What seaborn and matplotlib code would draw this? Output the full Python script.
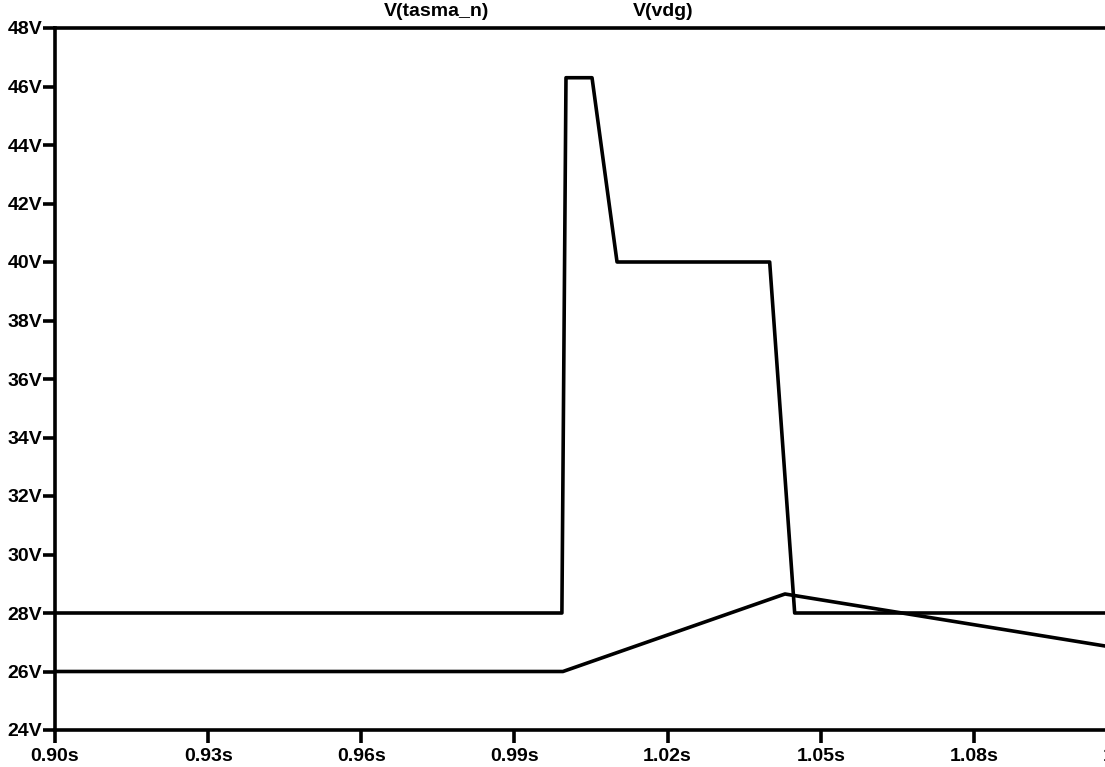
import numpy as np
import pandas as pd
import seaborn as sns
import matplotlib.pyplot as plt
from matplotlib.ticker import FuncFormatter

# ---- data ----
t_tasma = [0.90, 0.9993, 1.0001, 1.0052, 1.0101, 1.0400, 1.0449, 1.11]
v_tasma = [28.0, 28.0, 46.3, 46.3, 40.0, 40.0, 28.0, 28.0]

t_vdg = [0.90, 0.9995, 1.0430, 1.11]
v_vdg = [26.0, 26.0, 28.65, 26.75]

trace_names = ["V(tasma_n)", "V(vdg)"]
x_ticks = [0.90, 0.93, 0.96, 0.99, 1.02, 1.05, 1.08, 1.11]
y_ticks = list(range(24, 50, 2))

df = pd.concat([
    pd.DataFrame({"t": t_tasma, "v": v_tasma, "trace": trace_names[0]}),
    pd.DataFrame({"t": t_vdg, "v": v_vdg, "trace": trace_names[1]}),
], ignore_index=True)

sns.set_style("white")
plt.rcParams["font.family"] = ["Liberation Sans", "DejaVu Sans"]
plt.rcParams["font.weight"] = "bold"
plt.rcParams["text.color"] = "black"

fig = plt.figure(figsize=(11.05, 7.67), dpi=100)
# axes run past the right edge of the figure, like the cropped original
ax = fig.add_axes([55 / 1105, 37 / 767, (1127 - 55) / 1105, (730 - 28) / 767])

sns.lineplot(data=df, x="t", y="v", hue="trace", palette=["black", "black"],
             linewidth=2.6, legend=False, ax=ax, sort=False, estimator=None)

ax.set_xlim(0.90, 1.11)
ax.set_ylim(24, 48)
ax.set_xticks(x_ticks)
ax.set_yticks(y_ticks)
ax.xaxis.set_major_formatter(FuncFormatter(lambda x, _: f"{x:.2f}s"))
ax.yaxis.set_major_formatter(FuncFormatter(lambda y, _: f"{y:.0f}V"))
ax.tick_params(axis="both", which="major", direction="out", length=9, width=2.6,
               labelsize=14, pad=0, color="black", labelcolor="black",
               bottom=True, left=True)
ax.tick_params(axis="x", pad=4)
for lbl in ax.get_xticklabels() + ax.get_yticklabels():
    lbl.set_fontweight("heavy")

for side in ["left", "top", "bottom"]:
    ax.spines[side].set_color("black")
    ax.spines[side].set_linewidth(2.6)
ax.spines["right"].set_visible(False)
ax.set_xlabel("")
ax.set_ylabel("")

fig.text(437 / 1105, 1 - 12 / 767, trace_names[0], ha="center", va="center",
         fontsize=14, fontweight="heavy", color="black")
fig.text(663 / 1105, 1 - 12 / 767, trace_names[1], ha="center", va="center",
         fontsize=14, fontweight="heavy", color="black")

fig.savefig("out.png", dpi=100)
